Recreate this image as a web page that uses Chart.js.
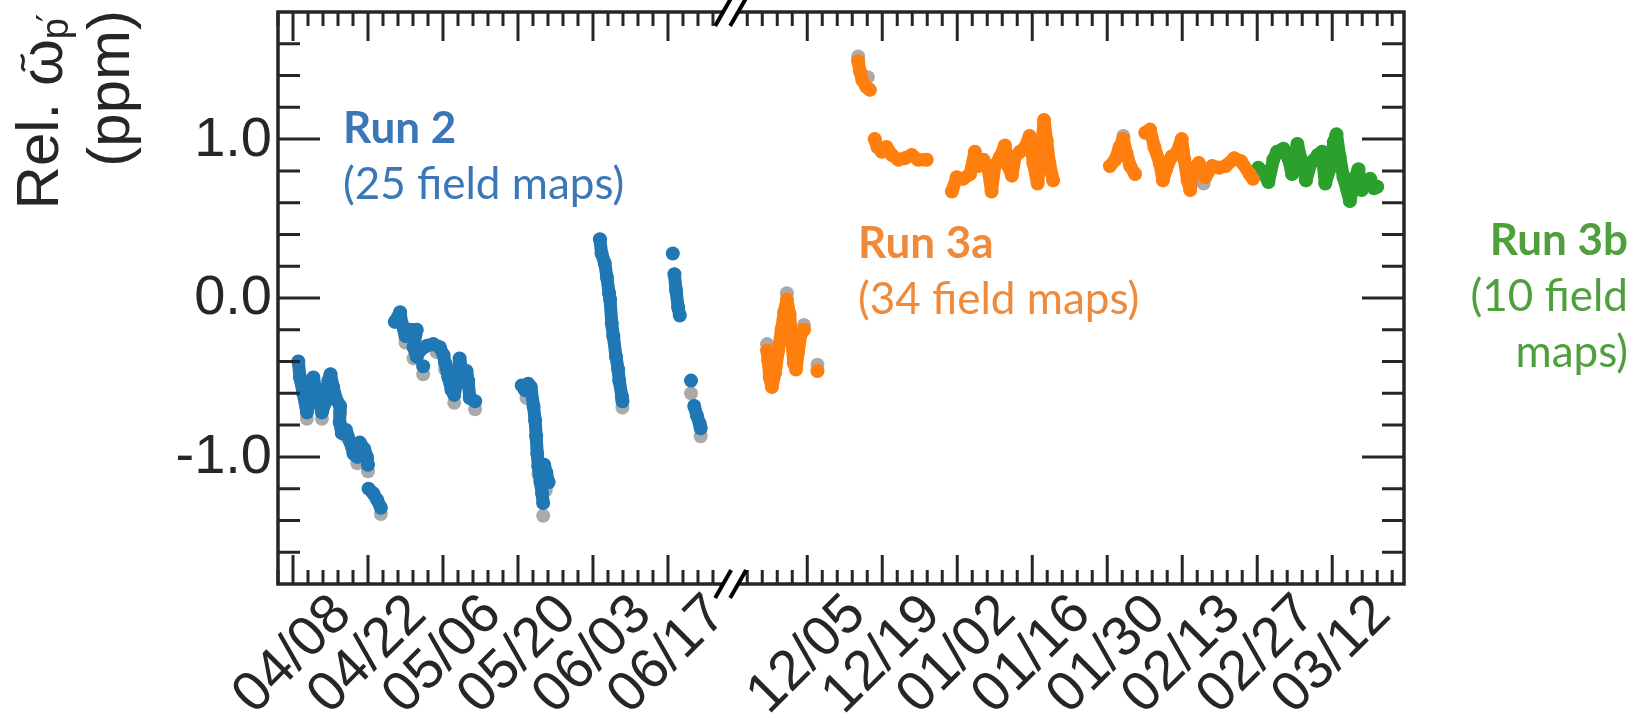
<!DOCTYPE html>
<html>
<head>
<meta charset="utf-8">
<script src="https://cdn.jsdelivr.net/npm/chart.js@4.4.1/dist/chart.umd.min.js"></script>
<style>
  html, body { margin: 0; padding: 0; background: #fff; }
</style>
</head>
<body>
<canvas id="chart" width="1633" height="720"></canvas>
<script>
// x is in days since 04/08; the Jun-Dec gap is squeezed out, 12/05 sits at day 96
const X_MIN = -2.8, X_MAX = 207.4;
const Y_MIN = -1.8, Y_MAX = 1.8;

const xTickDays   = [0, 14, 28, 42, 56, 70, 96, 110, 124, 138, 152, 166, 180, 194];
const xTickLabels = ['04/08', '04/22', '05/06', '05/20', '06/03', '06/17',
                     '12/05', '12/19', '01/02', '01/16', '01/30', '02/13', '02/27', '03/12'];
const yTickVals   = [-1, 0, 1];
const yTickLabels = ['-1.0', '0.0', '1.0'];
const breakDays   = [80.3, 83.1];

// Run 2 (null = gap between field-map groups)
const run2Day = [1.0, 1.3, 1.9, 2.6, 3.2, 3.8, 4.4, 5.4, 6.0, 6.6, 7.0, 7.5, 8.1, 8.8, 8.7, 9.1, 9.9, 10.6, 11.3, 12.0, 12.5, 13.3, 13.8, 14.0, null,
                 14.1, 15.0, 15.7, 16.4, null,
                 19.0, 20.0, 20.3, 21.0, 21.8, 23.1, 22.5, 23.1, 23.7, 25.0, 26.2, 27.4, 28.1, 28.4, 29.0, 29.6, 30.1, 30.5, 31.1, 31.5, 31.9, 32.4, 32.7, 33.0, 34.0, null,
                 24.3, null,
                 42.7, 43.3, 43.9, 44.4, 44.9, 45.2, 45.4, 45.6, 45.8, 46.2, 46.5, 46.7, null,
                 46.9, 47.3, 47.7, null,
                 57.3, 57.6, 58.2, 58.6, 59.0, 59.2, 59.5, 59.8, 60.3, 60.7, 60.9, 61.4, 61.5, null,
                 70.9, null,
                 71.2, 71.5, 71.9, 72.2, null,
                 74.3, null,
                 74.9, 75.4, 75.9, 76.1];
const run2Val = [-0.40, -0.50, -0.60, -0.72, -0.60, -0.50, -0.60, -0.72, -0.66, -0.52, -0.48, -0.56, -0.64, -0.68, -0.78, -0.85, -0.83, -0.90, -0.98, -1.00, -0.91, -0.95, -1.00, -1.05, null,
                 -1.20, -1.23, -1.27, -1.32, null,
                 -0.15, -0.09, -0.16, -0.24, -0.20, -0.20, -0.31, -0.37, -0.33, -0.30, -0.29, -0.31, -0.36, -0.41, -0.50, -0.58, -0.61, -0.54, -0.38, -0.45, -0.52, -0.46, -0.52, -0.63, -0.65, null,
                 -0.43, null,
                 -0.55, -0.58, -0.54, -0.56, -0.68, -0.77, -0.87, -0.98, -1.06, -1.16, -1.23, -1.29, null,
                 -1.05, -1.10, -1.16, null,
                 0.37, 0.28, 0.22, 0.13, 0.03, -0.01, -0.16, -0.24, -0.37, -0.45, -0.52, -0.62, -0.65, null,
                 0.28, null,
                 0.15, 0.05, -0.06, -0.11, null,
                 -0.52, null,
                 -0.68, -0.74, -0.79, -0.82];

// Run 3a
const run3aDay = [88.5, 88.7, 89.0, 89.4, 90.0, 90.6, 91.2, 91.7, 92.2, 92.7, 93.1, 93.5, 93.9, 94.3, 94.8, null,
                  95.4, null,
                  97.9, null,
                  105.5, 105.8, 106.3, 107.0, 107.7, null,
                  108.6, 109.1, 109.9, 110.8, 111.8, 113.0, 114.2, 115.5, 116.7, 118.3, null,
                  123.0, 123.9, 125.1, 126.4, 127.3, 127.9, 128.9, 129.8, 130.4, 131.0, 132.0, 132.9, 133.5, 134.2, 134.8, 135.7, 136.7, 137.5, 138.2, 139.0, 139.6, 140.2, 140.7, 141.2, 141.9, null,
                  152.5, 153.5, 154.3, 155.0, 155.6, 156.3, 157.2, null,
                  159.1, 160.0, 160.8, 161.8, 162.4, 163.0, 164.0, 164.9, 165.9, 166.4, 167.0, 167.5, 168.1, 169.1, 170.3, 171.6, 172.9, 174.1, 175.7, 177.0, 178.6, 179.2];
const run3aVal = [-0.33, -0.39, -0.50, -0.56, -0.47, -0.33, -0.20, -0.09, -0.01, -0.10, -0.26, -0.41, -0.45, -0.34, -0.23, null,
                  -0.20, null,
                  -0.46, null,
                  1.49, 1.43, 1.37, 1.33, 1.31, null,
                  1.00, 0.95, 0.92, 0.95, 0.90, 0.87, 0.88, 0.90, 0.87, 0.87, null,
                  0.67, 0.76, 0.75, 0.78, 0.92, 0.83, 0.87, 0.81, 0.67, 0.83, 0.89, 0.96, 0.83, 0.77, 0.89, 0.92, 0.95, 1.02, 0.85, 0.72, 0.89, 1.12, 0.99, 0.85, 0.74, null,
                  0.83, 0.87, 0.95, 1.00, 0.91, 0.83, 0.78, null,
                  1.04, 1.06, 0.95, 0.85, 0.74, 0.81, 0.89, 0.91, 1.00, 0.87, 0.74, 0.68, 0.81, 0.85, 0.76, 0.83, 0.82, 0.83, 0.88, 0.86, 0.78, 0.75];

// Run 3b
const run3bDay = [180.2, 181.1, 182.1, 183.0, 183.7, 184.9, 185.9, 186.5, 187.5, 188.2, 189.1, 190.0, 191.3, 192.1, 192.7, 193.5,
                  194.3, 194.8, 195.4, 196.1, 197.3, 198.3, 198.9, 199.5, 200.2, 201.1, 201.8, 202.4];
const run3bVal = [0.82, 0.79, 0.73, 0.87, 0.92, 0.94, 0.87, 0.78, 0.97, 0.87, 0.74, 0.85, 0.90, 0.92, 0.72, 0.81,
                  0.98, 1.03, 0.89, 0.76, 0.61, 0.76, 0.81, 0.68, 0.72, 0.75, 0.69, 0.70];

// second analysis, drawn underneath in grey
const altDay = [2.6, 5.4, 8.8, 9.9, 12.0, 14.0, 16.4, 21.0, 22.5, 24.3, 26.8, 28.4, 30.1, 34.0, 43.6, 45.8, 47.2, 46.7,
                61.5, 74.3, 76.1, 88.5, 92.2, 94.3, 95.4, 97.9, 105.5, 107.3, 155.0, 170.0];
const altVal = [-0.76, -0.76, -0.72, -0.87, -1.04, -1.09, -1.36, -0.28, -0.38, -0.48, -0.34, -0.45, -0.66, -0.70, -0.63, -1.11, -1.21, -1.37,
                -0.69, -0.60, -0.87, -0.29, 0.03, -0.30, -0.17, -0.42, 1.52, 1.39, 1.02, 0.72];

const INK = '#262626';
const TICK_FONT = '56px "Liberation Sans", Arial, sans-serif';

const notes = [
  { lines: ['Run 2', '(25 field maps)'], color: '#3b76b6', x: 343, y: 143, align: 'left' },
  { lines: ['Run 3a', '(34 field maps)'], color: '#ee8a3a', x: 858, y: 258, align: 'left' },
  { lines: ['Run 3b', '(10 field', 'maps)'], color: '#4fa03c', x: 1628, y: 255, align: 'right' }
];

function points(days, vals) {
  return days.map((d, i) => ({ x: d, y: vals[i] }));
}

function trace(label, days, vals, color) {
  return {
    label,
    data: points(days, vals),
    showLine: true,
    spanGaps: false,
    borderColor: color,
    backgroundColor: color,
    borderWidth: 13,
    borderCapStyle: 'round',
    borderJoinStyle: 'round',
    tension: 0,
    pointRadius: 7,
    pointHoverRadius: 7,
    pointBorderWidth: 0,
    pointBackgroundColor: color
  };
}

function drawBreak(ctx, px, ay) {
  ctx.save();
  ctx.fillStyle = '#fff';
  ctx.beginPath();
  ctx.moveTo(px[0] - 8, ay + 14);
  ctx.lineTo(px[0] + 8, ay - 14);
  ctx.lineTo(px[1] + 8, ay - 14);
  ctx.lineTo(px[1] - 8, ay + 14);
  ctx.closePath();
  ctx.fill();
  ctx.strokeStyle = '#000';
  ctx.lineWidth = 4;
  px.forEach(p => {
    ctx.beginPath();
    ctx.moveTo(p - 8, ay + 14);
    ctx.lineTo(p + 8, ay - 14);
    ctx.stroke();
  });
  ctx.restore();
}

const axisFrame = {
  id: 'axisFrame',
  afterDraw(chart) {
    const { ctx, chartArea: a, scales: { x, y } } = chart;
    ctx.save();
    ctx.strokeStyle = INK;
    ctx.lineCap = 'butt';

    // y ticks, inward on both sides
    ctx.lineWidth = 3;
    for (let k = -8; k <= 8; k++) {
      const py = y.getPixelForValue(k * 0.2);
      const len = k % 5 === 0 ? 42 : 22;
      ctx.beginPath();
      ctx.moveTo(a.left, py); ctx.lineTo(a.left + len, py);
      ctx.moveTo(a.right, py); ctx.lineTo(a.right - len, py);
      ctx.stroke();
    }

    // x ticks: major every 14 days, five minor steps between
    const xt = [];
    for (let k = -1; k <= 28; k++) xt.push({ d: 2.8 * k, major: k % 5 === 0 });
    for (let k = -4; k <= 39; k++) xt.push({ d: 96 + 2.8 * k, major: k % 5 === 0 });
    xt.forEach(t => {
      const px = x.getPixelForValue(t.d);
      const len = t.major ? 29 : 14;
      ctx.beginPath();
      ctx.moveTo(px, a.bottom); ctx.lineTo(px, a.bottom - len);
      ctx.moveTo(px, a.top); ctx.lineTo(px, a.top + len);
      ctx.stroke();
    });

    ctx.lineWidth = 3.5;
    ctx.strokeRect(a.left, a.top, a.right - a.left, a.bottom - a.top);

    const bx = breakDays.map(d => x.getPixelForValue(d));
    drawBreak(ctx, bx, a.top);
    drawBreak(ctx, bx, a.bottom);

    // tick labels
    ctx.fillStyle = INK;
    ctx.font = TICK_FONT;
    ctx.textAlign = 'right';
    ctx.textBaseline = 'middle';
    yTickVals.forEach((v, i) => {
      ctx.fillText(yTickLabels[i], a.left - 6, y.getPixelForValue(v) + 1);
    });
    ctx.textAlign = 'center';
    xTickDays.forEach((d, i) => {
      ctx.save();
      ctx.translate(x.getPixelForValue(d), a.bottom + 71);
      ctx.rotate(-Math.PI / 4);
      ctx.fillText(xTickLabels[i], 0, 0);
      ctx.restore();
    });

    // y title, two lines reading upward, flush with the top of the frame
    const big = '60px "Liberation Sans", Arial, sans-serif';
    const small = '38px "Liberation Sans", Arial, sans-serif';
    const primeFont = '36px "DejaVu Sans", sans-serif';
    ctx.save();
    ctx.translate(129, 10);
    ctx.rotate(-Math.PI / 2);
    ctx.font = big;
    ctx.textAlign = 'right';
    ctx.textBaseline = 'alphabetic';
    ctx.fillText('(ppm)', 0, 0);
    ctx.restore();

    ctx.save();
    ctx.translate(58, 14);
    ctx.rotate(-Math.PI / 2);
    ctx.textAlign = 'left';
    ctx.textBaseline = 'alphabetic';
    ctx.font = big;
    const wRel = ctx.measureText('Rel. ').width;
    const wOm = ctx.measureText('ω').width;
    ctx.font = small;
    const wP = ctx.measureText('p').width;
    ctx.font = primeFont;
    const wPr = ctx.measureText('′').width;
    let cx = -(wRel + wOm + wP + wPr * 0.5);
    ctx.font = big;
    ctx.fillText('Rel. ', cx, 0);
    cx += wRel;
    ctx.fillText('ω', cx, 4);
    // tilde over omega
    const tc = cx + wOm / 2;
    ctx.strokeStyle = INK;
    ctx.lineWidth = 3;
    ctx.beginPath();
    ctx.moveTo(tc - 8, -33);
    ctx.bezierCurveTo(tc - 4, -40, tc + 1, -30, tc + 8, -37);
    ctx.stroke();
    cx += wOm;
    ctx.font = small;
    ctx.fillText('p', cx, 10);
    cx += wP;
    ctx.font = primeFont;
    ctx.fillText('′', cx - 4, 4);
    ctx.restore();

    // run annotations
    notes.forEach(n => {
      ctx.fillStyle = n.color;
      ctx.textAlign = n.align;
      ctx.textBaseline = 'alphabetic';
      n.lines.forEach((line, i) => {
        ctx.font = (i === 0 ? 'bold ' : '') + '44px Lato, "Open Sans", sans-serif';
        ctx.fillText(line, n.x, n.y + i * 56);
      });
    });
    ctx.restore();
  }
};

new Chart(document.getElementById('chart').getContext('2d'), {
  type: 'scatter',
  data: {
    datasets: [
      trace('Run 2', run2Day, run2Val, '#1f77b4'),
      trace('Run 3a', run3aDay, run3aVal, '#ff7f0e'),
      trace('Run 3b', run3bDay, run3bVal, '#2ca02c'),
      {
        label: 'alt',
        data: points(altDay, altVal),
        showLine: false,
        pointRadius: 7,
        pointBorderWidth: 0,
        pointBackgroundColor: 'rgba(85,85,85,0.5)',
        backgroundColor: 'rgba(85,85,85,0.5)'
      }
    ]
  },
  options: {
    responsive: false,
    animation: false,
    events: [],
    layout: { padding: { left: 278, right: 229, top: 12, bottom: 136 } },
    plugins: { legend: { display: false }, tooltip: { enabled: false } },
    scales: {
      x: { type: 'linear', min: X_MIN, max: X_MAX, display: false },
      y: { type: 'linear', min: Y_MIN, max: Y_MAX, display: false }
    }
  },
  plugins: [axisFrame]
});
</script>
</body>
</html>
